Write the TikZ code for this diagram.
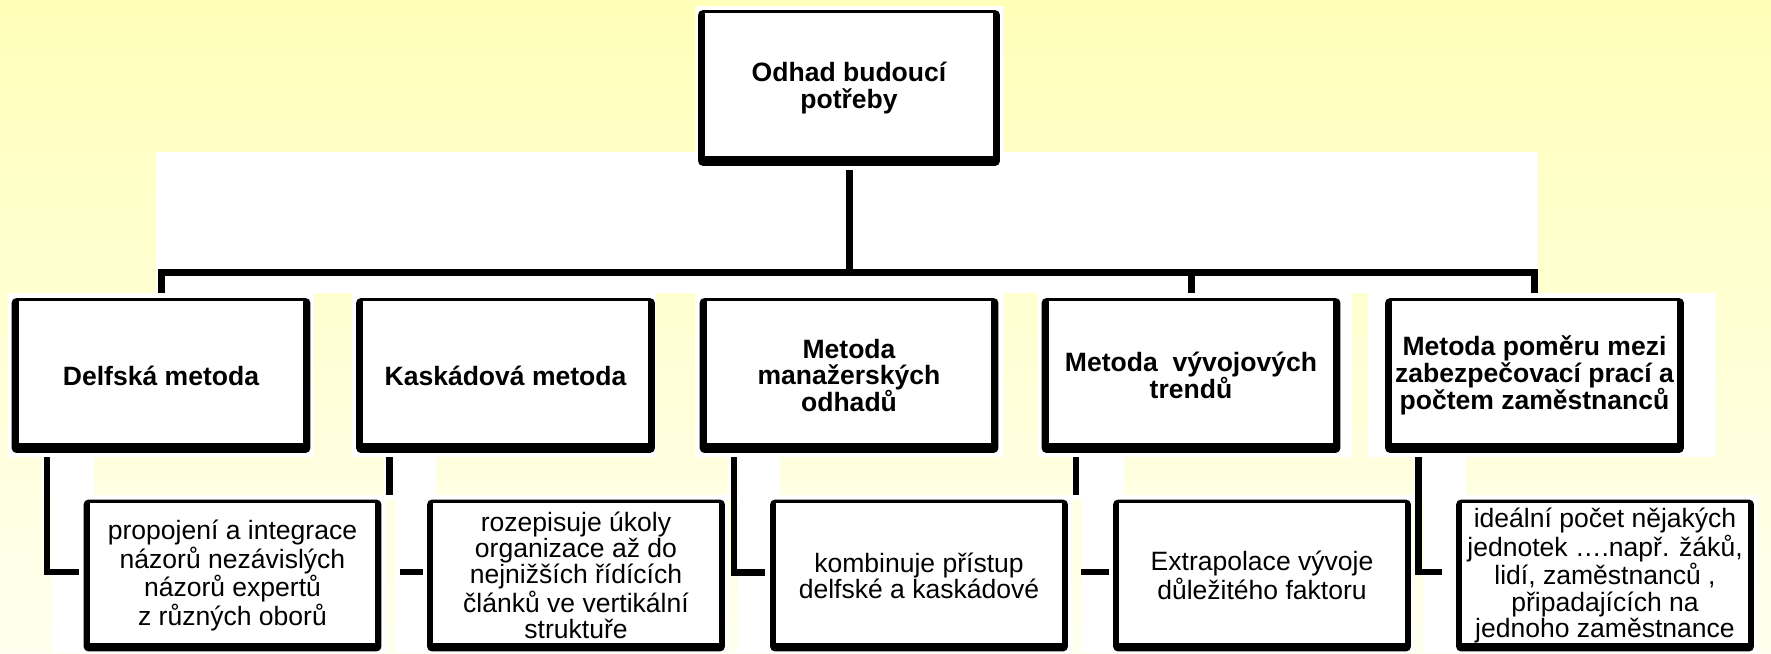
\documentclass[tikz,border=0pt]{standalone}
\usepackage{fontspec}
\setmainfont{Liberation Sans}
\usetikzlibrary{calc}
\definecolor{zluta}{HTML}{FFFFB9}
\definecolor{zlutadole}{HTML}{FFFFEF}
\tikzset{
 ramecek/.style n args={2}{fill=black, rounded corners=0.1cm, align=center, inner sep=0pt,
   path picture={\fill[white, sharp corners] ([xshift=#1, yshift=-0.06cm]path picture bounding box.north west)
     rectangle ([xshift=-#1, yshift=#2]path picture bounding box.south east);}},
 metoda/.style={ramecek={0.14cm}{0.2cm}, font=\bfseries\fontsize{15.1}{15.3}\selectfont,
   minimum width=5.98cm, minimum height=3.1cm},
 popis/.style={ramecek={0.12cm}{0.16cm}, font=\fontsize{15.1}{14.95}\selectfont,
   minimum width=5.96cm, minimum height=3.04cm},
 spoj/.style={line width=0.14cm},
 spojdole/.style={line width=0.13cm}
}
\begin{document}
\begin{tikzpicture}[x=0.02cm, y=-0.02cm]
 \useasboundingbox (0,0) rectangle (1771,653);
 \shade[top color=zluta, bottom color=zlutadole] (0,0) rectangle (1771,653);

 % white patches behind the chart
 \fill[white] (695,6) rectangle (1003,152);
 \fill[white] (156,152) rectangle (1537,293);
 \foreach \a/\b in {8/313, 352/656, 695/1003, 1038/1352, 1368/1715}
   \fill[white] (\a,293) rectangle (\b,457);
 \foreach \a in {42, 384, 728, 1072, 1414}
   \fill[white] (\a,457) rectangle ({\a+52},500);
 \foreach \a/\b in {51/385, 395/728, 738/1071, 1081/1414, 1424/1757}
   \fill[white] (\a,495) rectangle (\b,653);

 \node[metoda, minimum width=6.04cm, minimum height=3.12cm, font=\bfseries\fontsize{15.1}{15.9}\selectfont]
   (odhad) at (849,88) {Odhad budoucí\\potřeby};

 \node[metoda] (m1) at (161,375.5) {Delfská metoda};
 \node[metoda] (m2) at (505.5,375.5) {Kaskádová metoda};
 \node[metoda] (m3) at (849,375.5) {Metoda\\manažerských\\odhadů};
 \node[metoda] (m4) at (1191,375.5) {Metoda\ \ vývojových\\trendů};
 \node[metoda] (m5) at (1534.5,375.5) {Metoda poměru mezi\\zabezpečovací prací a\\počtem zaměstnanců};

 \node[popis] (p1) at (232.5,575.5) {propojení a integrace\\názorů nezávislých\\názorů expertů\\z různých oborů};
 \node[popis] (p2) at (576,575.5) {rozepisuje úkoly\\organizace až do\\nejnižších řídících\\článků ve vertikální\\struktuře};
 \node[popis] (p3) at (919,575.5) {kombinuje přístup\\delfské a kaskádové};
 \node[popis] (p4) at (1262,575.5) {Extrapolace vývoje\\důležitého faktoru};
 \node[popis] (p5) at (1605,575.5) {ideální počet nějakých\\jednotek ….např. žáků,\\lidí, zaměstnanců ,\\připadajících na\\jednoho zaměstnance};

 \foreach \m in {m1,m4,m5}
   \draw[spoj, shorten <=0.08cm, shorten >=0.1cm] (odhad.south) -- ++(0,106) -| (\m.north);

 \draw[spojdole] ($(m1.south west)+(36,4)$) |- ($(p1.west)+(-4,-3.5)$);
 \draw[spojdole] ($(m3.south west)+(35,4)$) |- ($(p3.west)+(-5,-3)$);
 \draw[spojdole] ($(m5.south west)+(34,4)$) |- ($(p5.west)+(-14,-3.5)$);

 \draw[spojdole] ($(m2.south west)+(34,4)$) -- ++(0,38);
 \draw[spojdole] ($(p2.west)+(-4,-3.5)$) -- ++(-23,0);
 \draw[spojdole] ($(m4.south west)+(35,4)$) -- ++(0,38);
 \draw[spojdole] ($(p4.west)+(-4,-3.5)$) -- ++(-28,0);
\end{tikzpicture}
\end{document}
